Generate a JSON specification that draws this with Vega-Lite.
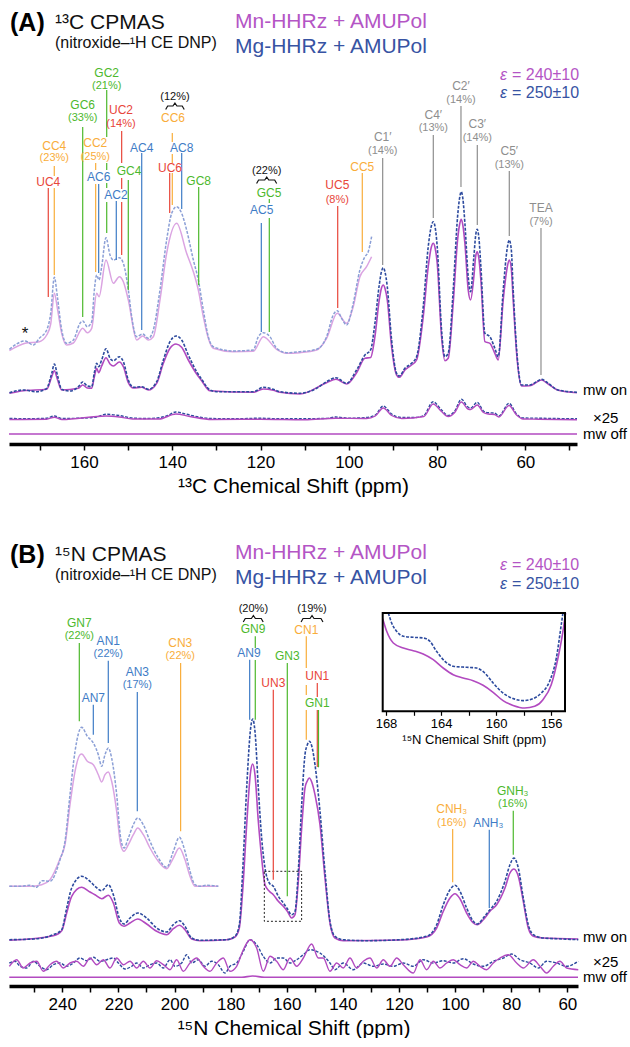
{
"$schema": "https://vega.github.io/schema/vega-lite/v6.json",
"padding": 0,
"autosize": {"type": "pad"},
"background": "white",
"spacing": 32,
"config": {"view": {"stroke": null}, "font": "Liberation Sans",
 "axis": {"grid": false, "domainColor": "#000", "domainWidth": 3.5, "tickColor": "#000", "tickWidth": 1.5, "tickSize": 6, "labelFontSize": 17, "labelColor": "#000", "labelFont": "Liberation Sans", "titleFont": "Liberation Sans", "titleFontSize": 21, "titleFontWeight": "normal", "titleColor": "#000", "labelPadding": 4, "titlePadding": 5, "labelOverlap": false, "labelFlush": false}},
"datasets": {
"A_mg_on": [{"ppm":176.9,"u":51.3},{"ppm":173.74,"u":54},{"ppm":170.72,"u":52.3},{"ppm":168.46,"u":55.7},{"ppm":167.32,"u":70.7},{"ppm":166.72,"u":80},{"ppm":166.04,"u":69},{"ppm":165.06,"u":54.7},{"ppm":163.17,"u":53},{"ppm":161.28,"u":57.3},{"ppm":160.3,"u":62},{"ppm":159.25,"u":58},{"ppm":158.26,"u":57.3},{"ppm":157.66,"u":71.3},{"ppm":157.13,"u":80.7},{"ppm":156.68,"u":77.3},{"ppm":156.0,"u":84},{"ppm":155.02,"u":95.3},{"ppm":154.11,"u":85.7},{"ppm":153.36,"u":83.3},{"ppm":152.0,"u":87.3},{"ppm":151.09,"u":82.3},{"ppm":149.96,"u":64},{"ppm":148.83,"u":56.7},{"ppm":146.94,"u":57.3},{"ppm":145.43,"u":54.7},{"ppm":143.54,"u":62.3},{"ppm":142.03,"u":84},{"ppm":140.52,"u":102.3},{"ppm":139.16,"u":108},{"ppm":137.88,"u":104},{"ppm":136.37,"u":89},{"ppm":134.48,"u":72.3},{"ppm":133.35,"u":64.7},{"ppm":131.46,"u":54},{"ppm":129.95,"u":52.3},{"ppm":121.65,"u":52.3},{"ppm":119.38,"u":56.7},{"ppm":117.12,"u":54.7},{"ppm":115.61,"u":52.3},{"ppm":111.08,"u":50.7},{"ppm":107.3,"u":55.7},{"ppm":105.04,"u":62.3},{"ppm":102.92,"u":66.3},{"ppm":100.5,"u":60.7},{"ppm":98.24,"u":74},{"ppm":96.35,"u":89},{"ppm":95.07,"u":94},{"ppm":94.09,"u":120.7},{"ppm":93.11,"u":159},{"ppm":92.6,"u":172.5},{"ppm":92.2,"u":176.3},{"ppm":91.8,"u":172},{"ppm":91.29,"u":157.3},{"ppm":90.31,"u":104},{"ppm":89.18,"u":70.7},{"ppm":88.57,"u":68},{"ppm":87.29,"u":75.7},{"ppm":85.78,"u":80.7},{"ppm":84.65,"u":87.3},{"ppm":83.14,"u":137.3},{"ppm":82.01,"u":197.3},{"ppm":81.3,"u":218},{"ppm":80.88,"u":222.3},{"ppm":80.45,"u":217},{"ppm":79.97,"u":197.3},{"ppm":78.99,"u":114},{"ppm":78.23,"u":87.3},{"ppm":77.48,"u":90.7},{"ppm":76.35,"u":154},{"ppm":75.36,"u":227.3},{"ppm":74.9,"u":246},{"ppm":74.53,"u":252.3},{"ppm":74.15,"u":245},{"ppm":73.7,"u":220.7},{"ppm":72.95,"u":167.3},{"ppm":72.42,"u":152.3},{"ppm":71.67,"u":187.3},{"ppm":71.25,"u":209},{"ppm":70.91,"u":214.7},{"ppm":70.55,"u":207},{"ppm":70.08,"u":177.3},{"ppm":69.17,"u":110.7},{"ppm":68.04,"u":107.3},{"ppm":66.91,"u":95.7},{"ppm":66.15,"u":87.3},{"ppm":65.02,"u":154},{"ppm":64.1,"u":196},{"ppm":63.66,"u":204},{"ppm":63.2,"u":195},{"ppm":62.76,"u":154},{"ppm":61.85,"u":87.3},{"ppm":60.87,"u":59},{"ppm":58.98,"u":59},{"ppm":57.47,"u":62.3},{"ppm":56.34,"u":64.7},{"ppm":54.83,"u":60.7},{"ppm":52.57,"u":54},{"ppm":48.3,"u":51.7}],
"A_mn_on": [{"ppm":176.9,"u":50.7},{"ppm":173.74,"u":53.3},{"ppm":168.46,"u":54.7},{"ppm":167.32,"u":67.3},{"ppm":166.72,"u":73.3},{"ppm":166.04,"u":64.7},{"ppm":165.06,"u":54},{"ppm":161.28,"u":55.7},{"ppm":160.3,"u":59},{"ppm":159.25,"u":56},{"ppm":158.26,"u":55.7},{"ppm":157.66,"u":67.3},{"ppm":157.13,"u":75.7},{"ppm":156.68,"u":71.3},{"ppm":156.0,"u":78},{"ppm":155.02,"u":86.3},{"ppm":154.11,"u":80},{"ppm":153.36,"u":78},{"ppm":152.0,"u":82},{"ppm":151.09,"u":77.3},{"ppm":149.96,"u":61.3},{"ppm":148.83,"u":56},{"ppm":146.94,"u":56.7},{"ppm":145.43,"u":54},{"ppm":143.54,"u":60.7},{"ppm":142.03,"u":80.7},{"ppm":140.52,"u":95.7},{"ppm":139.16,"u":100},{"ppm":137.88,"u":96.7},{"ppm":136.37,"u":84},{"ppm":134.48,"u":70},{"ppm":133.35,"u":63.3},{"ppm":131.46,"u":53.3},{"ppm":121.65,"u":51.7},{"ppm":119.38,"u":55},{"ppm":117.12,"u":53.7},{"ppm":115.61,"u":51.7},{"ppm":111.08,"u":50},{"ppm":105.04,"u":61.3},{"ppm":102.92,"u":64.7},{"ppm":100.5,"u":60},{"ppm":98.24,"u":71.3},{"ppm":96.35,"u":85.7},{"ppm":95.07,"u":86.5},{"ppm":94.09,"u":107.3},{"ppm":93.11,"u":144},{"ppm":92.6,"u":156},{"ppm":92.2,"u":159},{"ppm":91.8,"u":155.5},{"ppm":91.29,"u":144},{"ppm":90.31,"u":97.3},{"ppm":89.18,"u":69},{"ppm":88.57,"u":66.7},{"ppm":87.29,"u":74},{"ppm":85.78,"u":79},{"ppm":84.65,"u":84},{"ppm":83.14,"u":127.3},{"ppm":82.01,"u":177.3},{"ppm":81.3,"u":197},{"ppm":80.88,"u":200.7},{"ppm":80.45,"u":196},{"ppm":79.97,"u":180.7},{"ppm":78.99,"u":107.3},{"ppm":78.23,"u":83.3},{"ppm":77.48,"u":85.7},{"ppm":76.35,"u":140.7},{"ppm":75.36,"u":204},{"ppm":74.9,"u":219.5},{"ppm":74.53,"u":224.7},{"ppm":74.15,"u":218.5},{"ppm":73.7,"u":200.7},{"ppm":72.95,"u":154},{"ppm":72.42,"u":144},{"ppm":71.67,"u":167.3},{"ppm":71.25,"u":188},{"ppm":70.91,"u":192.3},{"ppm":70.55,"u":186},{"ppm":70.08,"u":164},{"ppm":69.17,"u":102.3},{"ppm":68.04,"u":100.7},{"ppm":66.91,"u":90.7},{"ppm":66.15,"u":84},{"ppm":65.02,"u":144},{"ppm":64.1,"u":177},{"ppm":63.66,"u":184},{"ppm":63.2,"u":176},{"ppm":62.76,"u":144},{"ppm":61.85,"u":84},{"ppm":60.87,"u":58},{"ppm":58.98,"u":58.3},{"ppm":57.47,"u":61.7},{"ppm":56.34,"u":64},{"ppm":54.83,"u":60},{"ppm":52.57,"u":53.7},{"ppm":48.3,"u":51.3}],
"A_mg_up": [{"ppm":176.9,"u":94.7},{"ppm":173.36,"u":103},{"ppm":171.48,"u":99},{"ppm":170.12,"u":105.7},{"ppm":168.46,"u":114},{"ppm":167.55,"u":130.7},{"ppm":166.72,"u":166.7},{"ppm":166.04,"u":147.3},{"ppm":165.06,"u":114},{"ppm":163.93,"u":100.7},{"ppm":162.42,"u":104},{"ppm":160.91,"u":120.7},{"ppm":160.3,"u":123},{"ppm":159.25,"u":117.3},{"ppm":158.26,"u":122.3},{"ppm":157.66,"u":154},{"ppm":157.13,"u":169},{"ppm":156.6,"u":164},{"ppm":156.0,"u":177.3},{"ppm":155.02,"u":206.3},{"ppm":154.11,"u":189},{"ppm":153.36,"u":184},{"ppm":152.0,"u":186.3},{"ppm":151.09,"u":180.7},{"ppm":149.96,"u":154},{"ppm":149.2,"u":127.3},{"ppm":148.07,"u":107.3},{"ppm":146.71,"u":110},{"ppm":145.43,"u":105.7},{"ppm":144.3,"u":114},{"ppm":142.79,"u":154},{"ppm":141.28,"u":204},{"ppm":140.14,"u":230.7},{"ppm":139.01,"u":237.3},{"ppm":137.88,"u":230.7},{"ppm":136.75,"u":214},{"ppm":135.23,"u":184},{"ppm":134.1,"u":164},{"ppm":132.97,"u":134},{"ppm":131.84,"u":107.3},{"ppm":130.71,"u":97.3},{"ppm":126.18,"u":93},{"ppm":121.65,"u":94},{"ppm":120.51,"u":107.3},{"ppm":119.38,"u":111.3},{"ppm":117.87,"u":107.3},{"ppm":116.36,"u":95.7},{"ppm":114.1,"u":91.3},{"ppm":111.08,"u":92.3},{"ppm":107.3,"u":94.7},{"ppm":105.04,"u":107.3},{"ppm":103.53,"u":129},{"ppm":102.62,"u":133.3},{"ppm":101.64,"u":125.7},{"ppm":100.5,"u":119},{"ppm":99.0,"u":140.7},{"ppm":97.49,"u":174},{"ppm":96.35,"u":187.3},{"ppm":95.6,"u":192.3},{"ppm":94.84,"u":207.3}],
"A_mn_up": [{"ppm":176.9,"u":93.3},{"ppm":173.36,"u":100.7},{"ppm":170.12,"u":102.3},{"ppm":168.46,"u":109},{"ppm":167.55,"u":120},{"ppm":166.72,"u":150.7},{"ppm":166.04,"u":135.7},{"ppm":165.06,"u":110.7},{"ppm":163.93,"u":99},{"ppm":162.42,"u":101},{"ppm":160.3,"u":115.7},{"ppm":159.25,"u":111.3},{"ppm":158.26,"u":115.7},{"ppm":157.13,"u":150.7},{"ppm":156.6,"u":147.3},{"ppm":155.02,"u":184},{"ppm":153.36,"u":160.7},{"ppm":152.0,"u":167.3},{"ppm":151.09,"u":162.3},{"ppm":149.96,"u":144},{"ppm":148.07,"u":104},{"ppm":146.71,"u":108},{"ppm":145.43,"u":104},{"ppm":144.3,"u":107.3},{"ppm":142.79,"u":144},{"ppm":141.28,"u":190.7},{"ppm":139.01,"u":220.7},{"ppm":136.75,"u":190.7},{"ppm":135.23,"u":172.3},{"ppm":134.1,"u":154},{"ppm":132.97,"u":127.3},{"ppm":131.84,"u":105.7},{"ppm":130.71,"u":95.7},{"ppm":126.18,"u":92.3},{"ppm":121.65,"u":92.7},{"ppm":119.38,"u":107.3},{"ppm":116.36,"u":94.7},{"ppm":114.1,"u":90.7},{"ppm":111.08,"u":91.3},{"ppm":107.3,"u":94},{"ppm":105.04,"u":105.7},{"ppm":102.62,"u":130.7},{"ppm":100.5,"u":120.7},{"ppm":99.0,"u":137.3},{"ppm":97.49,"u":167.3},{"ppm":95.98,"u":177.3},{"ppm":94.84,"u":187.3}],
"A_mg_x": [{"ppm":176.9,"u":25.5},{"ppm":172,"u":25.3},{"ppm":168.5,"u":25.8},{"ppm":166.7,"u":28},{"ppm":165,"u":25.5},{"ppm":161,"u":25.8},{"ppm":157.2,"u":27},{"ppm":155,"u":29.7},{"ppm":152,"u":28.5},{"ppm":149,"u":26},{"ppm":146,"u":25.5},{"ppm":143,"u":26.3},{"ppm":141,"u":28.5},{"ppm":139.2,"u":32},{"ppm":137,"u":30},{"ppm":134,"u":27},{"ppm":131,"u":25.5},{"ppm":126,"u":25.2},{"ppm":120,"u":25.8},{"ppm":116,"u":25.2},{"ppm":110,"u":25.3},{"ppm":105,"u":25.6},{"ppm":103,"u":27},{"ppm":100,"u":25.8},{"ppm":96,"u":26.5},{"ppm":94,"u":29},{"ppm":92.2,"u":38},{"ppm":90.3,"u":30},{"ppm":88,"u":26.5},{"ppm":85,"u":26.5},{"ppm":83,"u":28.5},{"ppm":80.9,"u":42.3},{"ppm":79,"u":34},{"ppm":77.5,"u":28.5},{"ppm":76,"u":33},{"ppm":74.5,"u":44.7},{"ppm":73,"u":37},{"ppm":72.4,"u":36},{"ppm":70.9,"u":41.7},{"ppm":69.5,"u":33},{"ppm":68.4,"u":31.3},{"ppm":67,"u":31},{"ppm":66,"u":28},{"ppm":63.7,"u":40.7},{"ppm":62,"u":30},{"ppm":60.5,"u":26},{"ppm":57,"u":25.8},{"ppm":52,"u":25.4},{"ppm":48.3,"u":25.3}],
"A_mn_x": [{"ppm":176.9,"u":24.5},{"ppm":168.5,"u":24.8},{"ppm":166.7,"u":26.8},{"ppm":165,"u":24.5},{"ppm":155,"u":28},{"ppm":152,"u":27},{"ppm":149,"u":25},{"ppm":143,"u":25},{"ppm":139.2,"u":30},{"ppm":136,"u":27.5},{"ppm":131,"u":24.5},{"ppm":120,"u":24.8},{"ppm":110,"u":24.3},{"ppm":103,"u":25.8},{"ppm":96,"u":25.5},{"ppm":94,"u":28},{"ppm":92.2,"u":36},{"ppm":90.3,"u":28.5},{"ppm":88,"u":25.5},{"ppm":83,"u":27.5},{"ppm":80.9,"u":40},{"ppm":79,"u":32.5},{"ppm":77.5,"u":27.5},{"ppm":76,"u":31.5},{"ppm":74.5,"u":42},{"ppm":73,"u":35},{"ppm":72.4,"u":34.5},{"ppm":70.9,"u":39},{"ppm":69.5,"u":31.5},{"ppm":68.4,"u":30},{"ppm":67,"u":29.5},{"ppm":66,"u":27},{"ppm":63.7,"u":38.5},{"ppm":62,"u":29},{"ppm":60.5,"u":25},{"ppm":57,"u":24.8},{"ppm":48.3,"u":24.3}],
"A_off": [{"ppm":177,"u":10},{"ppm":48.3,"u":10}],
"A_rules": [{"ppm":168.1,"u":256,"u2":147,"cat":"U"},{"ppm":166.74,"u":278,"u2":268,"cat":"C"},{"ppm":166.74,"u":256,"u2":169,"cat":"C"},{"ppm":160.3,"u":317,"u2":127,"cat":"G"},{"ppm":157.36,"u":281,"u2":274,"cat":"C"},{"ppm":157.36,"u":260,"u2":172,"cat":"C"},{"ppm":156.68,"u":260,"u2":171,"cat":"A"},{"ppm":154.86,"u":354,"u2":307,"cat":"G"},{"ppm":154.86,"u":281,"u2":274,"cat":"G"},{"ppm":154.86,"u":261,"u2":256,"cat":"G"},{"ppm":154.86,"u":242,"u2":211,"cat":"G"},{"ppm":151.47,"u":313,"u2":281,"cat":"U"},{"ppm":151.47,"u":266,"u2":255,"cat":"U"},{"ppm":151.47,"u":242,"u2":189,"cat":"U"},{"ppm":149.97,"u":264,"u2":154,"cat":"G"},{"ppm":152.69,"u":243,"u2":184,"cat":"A"},{"ppm":146.93,"u":291,"u2":114,"cat":"A"},{"ppm":140.0,"u":311,"u2":302,"cat":"C"},{"ppm":140.0,"u":290,"u2":281,"cat":"C"},{"ppm":140.0,"u":271,"u2":239,"cat":"C"},{"ppm":137.87,"u":291,"u2":235,"cat":"A"},{"ppm":140.59,"u":271,"u2":231,"cat":"U"},{"ppm":134.02,"u":257,"u2":159,"cat":"G"},{"ppm":118.02,"u":245,"u2":241,"cat":"G"},{"ppm":118.02,"u":226,"u2":112,"cat":"G"},{"ppm":119.83,"u":221,"u2":112,"cat":"A"},{"ppm":102.52,"u":238,"u2":136,"cat":"U"},{"ppm":96.95,"u":271,"u2":192,"cat":"C"},{"ppm":92.33,"u":286,"u2":179,"cat":"R"},{"ppm":80.86,"u":309,"u2":226,"cat":"R"},{"ppm":74.59,"u":338,"u2":257,"cat":"R"},{"ppm":70.89,"u":299,"u2":219,"cat":"R"},{"ppm":63.64,"u":273,"u2":208,"cat":"R"},{"ppm":56.46,"u":216,"u2":69,"cat":"R"}],
"A_names": [{"t":"UC4","ppm":168.1,"u":262,"cat":"U"},{"t":"CC4","ppm":166.74,"u":298,"cat":"C"},{"t":"GC6","ppm":160.3,"u":339,"cat":"G"},{"t":"CC2","ppm":157.45,"u":301,"cat":"C"},{"t":"AC6","ppm":156.68,"u":267,"cat":"A"},{"t":"GC2","ppm":154.86,"u":371.3,"cat":"G"},{"t":"AC2","ppm":152.76,"u":249,"cat":"A"},{"t":"UC2","ppm":151.62,"u":334,"cat":"U"},{"t":"GC4","ppm":149.81,"u":273,"cat":"G"},{"t":"AC4","ppm":146.93,"u":296,"cat":"A"},{"t":"CC6","ppm":139.84,"u":326,"cat":"C"},{"t":"AC8","ppm":137.87,"u":296,"cat":"A"},{"t":"UC6","ppm":140.52,"u":276,"cat":"U"},{"t":"GC8","ppm":134.02,"u":263,"cat":"G"},{"t":"GC5","ppm":118.09,"u":251,"cat":"G"},{"t":"AC5","ppm":119.74,"u":234,"cat":"A"},{"t":"UC5","ppm":102.61,"u":259,"cat":"U"},{"t":"CC5","ppm":96.95,"u":277,"cat":"C"},{"t":"C1′","ppm":92.33,"u":307,"cat":"R"},{"t":"C4′","ppm":80.86,"u":329,"cat":"R"},{"t":"C2′","ppm":74.59,"u":358,"cat":"R"},{"t":"C3′","ppm":70.89,"u":320,"cat":"R"},{"t":"C5′","ppm":63.64,"u":293,"cat":"R"},{"t":"TEA","ppm":56.46,"u":236,"cat":"R"}],
"A_pcts": [{"t":"(23%)","ppm":166.74,"u":286,"cat":"C"},{"t":"(33%)","ppm":160.3,"u":326,"cat":"G"},{"t":"(25%)","ppm":157.45,"u":287,"cat":"C"},{"t":"(21%)","ppm":154.86,"u":358,"cat":"G"},{"t":"(14%)","ppm":151.62,"u":320,"cat":"U"},{"t":"(8%)","ppm":102.61,"u":244,"cat":"U"},{"t":"(14%)","ppm":92.33,"u":293,"cat":"R"},{"t":"(13%)","ppm":80.86,"u":316,"cat":"R"},{"t":"(14%)","ppm":74.59,"u":344,"cat":"R"},{"t":"(14%)","ppm":70.89,"u":306,"cat":"R"},{"t":"(13%)","ppm":63.64,"u":279,"cat":"R"},{"t":"(7%)","ppm":56.46,"u":222,"cat":"R"},{"t":"(12%)","ppm":139.4,"u":347.5,"cat":"K"},{"t":"(22%)","ppm":118.6,"u":273.5,"cat":"K"}],
"A_star": [{"t":"*","ppm":173.37,"u":110}],
"A_braces": [{"id":1,"ppm":141.5,"u":334.5},{"id":1,"ppm":141.05,"u":338},{"id":1,"ppm":139.85,"u":338},{"id":1,"ppm":139.4,"u":341},{"id":1,"ppm":138.95,"u":338},{"id":1,"ppm":137.75,"u":338},{"id":1,"ppm":137.3,"u":334.5},{"id":2,"ppm":120.9,"u":260.5},{"id":2,"ppm":120.45,"u":264},{"id":2,"ppm":119.05,"u":264},{"id":2,"ppm":118.6,"u":267},{"id":2,"ppm":118.15,"u":264},{"id":2,"ppm":116.8,"u":264},{"id":2,"ppm":116.35,"u":260.5}],
"A_hb": [{"t":"(A)","ppm":176.77,"u":421}],
"A_h21": [{"t":"¹³C CPMAS","ppm":166.58,"u":421,"cat":"K"},{"t":"Mn-HHRz + AMUPol","ppm":125.79,"u":422,"cat":"Mn"},{"t":"Mg-HHRz + AMUPol","ppm":125.79,"u":397,"cat":"Mg"}],
"A_h16": [{"t":"(nitroxide–¹H CE DNP)","ppm":166.58,"u":401,"cat":"K"},{"t":"= 240±10","ppm":63.03,"u":369,"cat":"Mn"},{"t":"= 250±10","ppm":63.03,"u":351,"cat":"Mg"}],
"A_eps": [{"t":"ε","ppm":65.75,"u":369,"cat":"Mn"},{"t":"ε","ppm":65.75,"u":351,"cat":"Mg"}],
"A_right": [{"t":"mw on","ppm":46.94,"u":54},{"t":"×25","ppm":44.68,"u":26},{"t":"mw off","ppm":46.94,"u":10}],
"B_mg_up": [{"ppm":258.88,"u":99.7},{"ppm":255.07,"u":99.7},{"ppm":251.51,"u":100.7},{"ppm":249.13,"u":98.7},{"ppm":247.35,"u":105.3},{"ppm":244.38,"u":104.7},{"ppm":240.82,"u":126.3},{"ppm":239.04,"u":144.7},{"ppm":237.26,"u":191.3},{"ppm":235.47,"u":234.7},{"ppm":233.1,"u":258.7},{"ppm":231.08,"u":249.7},{"ppm":228.94,"u":243},{"ppm":227.16,"u":231.3},{"ppm":225.97,"u":219.7},{"ppm":224.78,"u":231.3},{"ppm":223.6,"u":238},{"ppm":222.41,"u":228},{"ppm":220.62,"u":191.3},{"ppm":219.2,"u":148},{"ppm":218.01,"u":138},{"ppm":216.47,"u":148},{"ppm":214.69,"u":161.3},{"ppm":213.14,"u":168},{"ppm":211.12,"u":161.3},{"ppm":208.75,"u":144.7},{"ppm":205.78,"u":128},{"ppm":202.81,"u":118.7},{"ppm":200.43,"u":134.7},{"ppm":198.29,"u":148.7},{"ppm":196.27,"u":134.7},{"ppm":194.49,"u":114.7},{"ppm":192.71,"u":101.3},{"ppm":190.93,"u":99.7},{"ppm":188.55,"u":100.7},{"ppm":184.4,"u":99.7}],
"B_mn_up": [{"ppm":258.88,"u":99.7},{"ppm":251.51,"u":99.7},{"ppm":247.35,"u":101.3},{"ppm":244.38,"u":106.3},{"ppm":240.82,"u":127.3},{"ppm":239.04,"u":141.3},{"ppm":237.26,"u":181.3},{"ppm":235.47,"u":214.7},{"ppm":233.69,"u":231.3},{"ppm":233.1,"u":232},{"ppm":231.08,"u":224.7},{"ppm":228.94,"u":221.3},{"ppm":227.16,"u":211.3},{"ppm":225.97,"u":204},{"ppm":224.78,"u":211.3},{"ppm":223.6,"u":214},{"ppm":222.41,"u":204.7},{"ppm":220.62,"u":174.7},{"ppm":219.2,"u":141.3},{"ppm":218.01,"u":134.7},{"ppm":216.47,"u":141.3},{"ppm":214.69,"u":151.3},{"ppm":213.14,"u":158},{"ppm":211.12,"u":151.3},{"ppm":208.75,"u":138},{"ppm":205.78,"u":124.7},{"ppm":202.81,"u":117.3},{"ppm":200.43,"u":128},{"ppm":198.29,"u":138},{"ppm":196.27,"u":126.3},{"ppm":194.49,"u":109.7},{"ppm":192.71,"u":99.7},{"ppm":184.4,"u":99.7}],
"B_mg_on": [{"ppm":258.88,"u":46.3},{"ppm":250.32,"u":47},{"ppm":243.2,"u":51.3},{"ppm":240.22,"u":56.3},{"ppm":238.44,"u":78},{"ppm":236.66,"u":98},{"ppm":233.1,"u":109.7},{"ppm":230.13,"u":104.7},{"ppm":228.35,"u":99.7},{"ppm":225.97,"u":95.3},{"ppm":223.6,"u":101.3},{"ppm":221.81,"u":91.3},{"ppm":219.68,"u":68},{"ppm":218.01,"u":62},{"ppm":215.87,"u":68},{"ppm":213.14,"u":73},{"ppm":209.93,"u":68},{"ppm":206.37,"u":58},{"ppm":202.81,"u":54},{"ppm":200.43,"u":61.3},{"ppm":198.29,"u":65.3},{"ppm":196.27,"u":59.7},{"ppm":193.9,"u":48},{"ppm":190.93,"u":45.7},{"ppm":181.42,"u":46.3},{"ppm":178.45,"u":49.7},{"ppm":176.91,"u":61.3},{"ppm":175.72,"u":114.7},{"ppm":174.29,"u":198},{"ppm":172.87,"u":258},{"ppm":172.16,"u":267},{"ppm":171.33,"u":254.7},{"ppm":170.14,"u":198},{"ppm":168.95,"u":148},{"ppm":167.76,"u":118},{"ppm":166.22,"u":103},{"ppm":164.79,"u":99.7},{"ppm":163.01,"u":89.7},{"ppm":161.23,"u":83},{"ppm":159.8,"u":77.3},{"ppm":158.26,"u":71.3},{"ppm":157.07,"u":74.7},{"ppm":155.89,"u":114.7},{"ppm":154.69,"u":181.3},{"ppm":153.51,"u":231.3},{"ppm":152.7,"u":241},{"ppm":151.96,"u":244.7},{"ppm":151.1,"u":240},{"ppm":149.94,"u":221.3},{"ppm":148.16,"u":174.7},{"ppm":146.38,"u":114.7},{"ppm":144.6,"u":64.7},{"ppm":142.82,"u":49.7},{"ppm":139.85,"u":46.3},{"ppm":131.53,"u":45.3},{"ppm":119.65,"u":46.3},{"ppm":110.15,"u":49.7},{"ppm":106.58,"u":61.3},{"ppm":104.21,"u":81.3},{"ppm":101.83,"u":96.3},{"ppm":100.05,"u":100.7},{"ppm":98.27,"u":94.7},{"ppm":95.89,"u":78},{"ppm":93.51,"u":64.7},{"ppm":92.09,"u":62},{"ppm":89.95,"u":68},{"ppm":87.58,"u":76.3},{"ppm":85.2,"u":84.7},{"ppm":82.23,"u":104.7},{"ppm":80.45,"u":121.3},{"ppm":79.02,"u":128},{"ppm":77.48,"u":118},{"ppm":75.7,"u":88},{"ppm":73.92,"u":61.3},{"ppm":72.13,"u":51.3},{"ppm":68.57,"u":48},{"ppm":61.44,"u":47},{"ppm":56.1,"u":46.3}],
"B_mn_on": [{"ppm":258.88,"u":45.7},{"ppm":243.2,"u":50.3},{"ppm":240.22,"u":55.3},{"ppm":238.44,"u":73},{"ppm":236.66,"u":89.7},{"ppm":233.1,"u":98.7},{"ppm":230.13,"u":94},{"ppm":228.35,"u":91.3},{"ppm":225.97,"u":87.3},{"ppm":223.6,"u":90.7},{"ppm":221.81,"u":83},{"ppm":219.68,"u":63},{"ppm":218.01,"u":59.7},{"ppm":215.87,"u":63},{"ppm":213.14,"u":67},{"ppm":209.93,"u":62},{"ppm":206.37,"u":54.7},{"ppm":202.81,"u":51.3},{"ppm":200.43,"u":57.3},{"ppm":198.29,"u":60.7},{"ppm":196.27,"u":56.3},{"ppm":193.9,"u":47},{"ppm":190.93,"u":45.3},{"ppm":181.42,"u":46.3},{"ppm":178.45,"u":49},{"ppm":176.91,"u":58},{"ppm":175.72,"u":94.7},{"ppm":174.29,"u":161.3},{"ppm":172.87,"u":214.7},{"ppm":172.16,"u":222},{"ppm":171.33,"u":211.3},{"ppm":170.14,"u":164.7},{"ppm":168.95,"u":128},{"ppm":167.76,"u":101.3},{"ppm":166.22,"u":94.7},{"ppm":164.79,"u":91.3},{"ppm":163.01,"u":84.7},{"ppm":161.23,"u":79.7},{"ppm":159.8,"u":74.7},{"ppm":158.26,"u":68},{"ppm":157.07,"u":71.3},{"ppm":155.89,"u":104.7},{"ppm":154.69,"u":158},{"ppm":153.51,"u":198},{"ppm":152.7,"u":205},{"ppm":151.96,"u":208},{"ppm":151.1,"u":204},{"ppm":149.94,"u":191.3},{"ppm":148.16,"u":161.3},{"ppm":146.38,"u":108},{"ppm":144.6,"u":63},{"ppm":142.82,"u":48},{"ppm":139.85,"u":45.3},{"ppm":119.65,"u":46},{"ppm":110.15,"u":49},{"ppm":106.58,"u":58},{"ppm":104.21,"u":74.7},{"ppm":101.83,"u":88},{"ppm":100.05,"u":92.3},{"ppm":98.27,"u":87.3},{"ppm":95.89,"u":73},{"ppm":93.51,"u":63},{"ppm":92.09,"u":61.3},{"ppm":89.95,"u":66.3},{"ppm":87.58,"u":74.7},{"ppm":85.2,"u":81.3},{"ppm":82.23,"u":98},{"ppm":80.45,"u":113},{"ppm":79.02,"u":117},{"ppm":77.48,"u":109.7},{"ppm":75.7,"u":84.7},{"ppm":73.92,"u":58},{"ppm":72.13,"u":49.7},{"ppm":68.57,"u":48},{"ppm":56.1,"u":47}],
"B_mg_x": [{"ppm":258.88,"u":23},{"ppm":256.86,"u":24.7},{"ppm":255.07,"u":19.7},{"ppm":252.7,"u":18},{"ppm":250.32,"u":24.7},{"ppm":247.95,"u":19.7},{"ppm":245.57,"u":16.3},{"ppm":243.2,"u":21.3},{"ppm":240.82,"u":23},{"ppm":238.44,"u":19.7},{"ppm":236.07,"u":23},{"ppm":233.69,"u":28},{"ppm":231.32,"u":25.3},{"ppm":228.94,"u":28.7},{"ppm":226.56,"u":24.7},{"ppm":224.19,"u":26.3},{"ppm":221.81,"u":28},{"ppm":220.03,"u":23},{"ppm":217.65,"u":17},{"ppm":215.28,"u":19.7},{"ppm":213.5,"u":23},{"ppm":211.12,"u":18},{"ppm":208.75,"u":21.3},{"ppm":206.37,"u":23},{"ppm":204.0,"u":18},{"ppm":201.62,"u":26.3},{"ppm":199.84,"u":19.7},{"ppm":197.46,"u":23},{"ppm":195.68,"u":31.3},{"ppm":193.9,"u":23},{"ppm":191.52,"u":26.3},{"ppm":189.15,"u":19.7},{"ppm":186.77,"u":24.7},{"ppm":184.4,"u":21.3},{"ppm":182.02,"u":13},{"ppm":180.24,"u":19.7},{"ppm":177.86,"u":23},{"ppm":175.48,"u":34.7},{"ppm":173.11,"u":46.3},{"ppm":170.73,"u":41.3},{"ppm":168.36,"u":29.7},{"ppm":165.98,"u":23},{"ppm":163.6,"u":28},{"ppm":161.23,"u":28},{"ppm":158.85,"u":23},{"ppm":156.48,"u":26.3},{"ppm":154.1,"u":31.3},{"ppm":151.72,"u":36.3},{"ppm":149.35,"u":34.7},{"ppm":148.16,"u":33},{"ppm":144.6,"u":23},{"ppm":142.82,"u":16.3},{"ppm":139.85,"u":23},{"ppm":136.29,"u":16.3},{"ppm":132.72,"u":23},{"ppm":129.16,"u":19.7},{"ppm":125.59,"u":22},{"ppm":122.03,"u":19.7},{"ppm":118.47,"u":23},{"ppm":114.9,"u":19.7},{"ppm":111.34,"u":26.3},{"ppm":107.77,"u":23},{"ppm":104.21,"u":25.3},{"ppm":100.64,"u":23},{"ppm":97.08,"u":27.3},{"ppm":93.51,"u":22},{"ppm":89.95,"u":19.7},{"ppm":86.39,"u":24.7},{"ppm":82.83,"u":28},{"ppm":79.85,"u":32},{"ppm":76.89,"u":26.3},{"ppm":73.32,"u":23},{"ppm":70.35,"u":18},{"ppm":67.38,"u":24.7},{"ppm":63.82,"u":23},{"ppm":60.25,"u":19.7},{"ppm":56.1,"u":24.7}],
"B_mn_x": [{"ppm":258.88,"u":19.7},{"ppm":256.26,"u":26.3},{"ppm":253.89,"u":18},{"ppm":251.51,"u":23},{"ppm":249.13,"u":24.7},{"ppm":246.76,"u":14.7},{"ppm":244.38,"u":21.3},{"ppm":242.01,"u":24.7},{"ppm":239.63,"u":18},{"ppm":237.26,"u":23},{"ppm":234.88,"u":24.7},{"ppm":232.51,"u":19.7},{"ppm":230.13,"u":28},{"ppm":227.75,"u":21.3},{"ppm":225.38,"u":26.3},{"ppm":223.0,"u":18},{"ppm":220.62,"u":28},{"ppm":218.25,"u":21.3},{"ppm":215.87,"u":24.7},{"ppm":213.5,"u":18},{"ppm":211.12,"u":24.7},{"ppm":208.75,"u":18},{"ppm":206.37,"u":25.3},{"ppm":204.0,"u":21.3},{"ppm":201.62,"u":16.3},{"ppm":199.24,"u":26.3},{"ppm":196.87,"u":14.7},{"ppm":194.49,"u":23},{"ppm":192.11,"u":28},{"ppm":189.74,"u":19.7},{"ppm":187.36,"u":14.7},{"ppm":184.99,"u":23},{"ppm":182.61,"u":28},{"ppm":180.24,"u":14.7},{"ppm":177.86,"u":19.7},{"ppm":175.48,"u":36.3},{"ppm":173.11,"u":46.3},{"ppm":170.73,"u":38},{"ppm":168.36,"u":14.7},{"ppm":165.98,"u":29.7},{"ppm":163.6,"u":24.7},{"ppm":161.23,"u":16.3},{"ppm":158.85,"u":28},{"ppm":156.48,"u":19.7},{"ppm":154.1,"u":28},{"ppm":151.13,"u":42},{"ppm":148.76,"u":28},{"ppm":146.97,"u":28},{"ppm":144.6,"u":14.7},{"ppm":142.22,"u":23},{"ppm":139.85,"u":18},{"ppm":137.47,"u":28},{"ppm":135.1,"u":18},{"ppm":132.72,"u":24.7},{"ppm":130.34,"u":28},{"ppm":127.97,"u":18},{"ppm":125.59,"u":26.3},{"ppm":123.21,"u":19.7},{"ppm":120.84,"u":28},{"ppm":118.47,"u":21.3},{"ppm":114.9,"u":13},{"ppm":112.52,"u":26.3},{"ppm":110.15,"u":16.3},{"ppm":107.77,"u":24.7},{"ppm":105.39,"u":18},{"ppm":103.02,"u":23},{"ppm":100.64,"u":26.3},{"ppm":98.27,"u":21.3},{"ppm":95.89,"u":18},{"ppm":93.51,"u":24.7},{"ppm":91.14,"u":19.7},{"ppm":88.76,"u":16.3},{"ppm":86.39,"u":23},{"ppm":84.01,"u":28},{"ppm":81.04,"u":31.3},{"ppm":78.07,"u":23},{"ppm":75.7,"u":18},{"ppm":72.13,"u":26.3},{"ppm":69.76,"u":19.7},{"ppm":67.38,"u":13},{"ppm":65.0,"u":19.7},{"ppm":62.63,"u":24.7},{"ppm":60.25,"u":18},{"ppm":56.1,"u":16.3}],
"B_off": [{"ppm":258.9,"u":8.7},{"ppm":176,"u":8.7},{"ppm":172.2,"u":10},{"ppm":168,"u":8.7},{"ppm":56.2,"u":8.7}],
"B_rules": [{"ppm":233.94,"u":343,"u2":264.7,"cat":"G"},{"ppm":228.95,"u":281.3,"u2":251.3,"cat":"A"},{"ppm":223.61,"u":325.3,"u2":243,"cat":"A"},{"ppm":213.27,"u":294,"u2":174.7,"cat":"A"},{"ppm":197.83,"u":323,"u2":154.7,"cat":"C"},{"ppm":171.22,"u":349.7,"u2":338,"cat":"G"},{"ppm":171.22,"u":326,"u2":266.3,"cat":"G"},{"ppm":173.22,"u":326.3,"u2":266.3,"cat":"A"},{"ppm":164.8,"u":296.3,"u2":106.3,"cat":"U"},{"ppm":159.81,"u":323,"u2":89.7,"cat":"G"},{"ppm":153.04,"u":349.7,"u2":318,"cat":"C"},{"ppm":153.04,"u":301,"u2":291,"cat":"C"},{"ppm":153.04,"u":276,"u2":246.3,"cat":"C"},{"ppm":149.12,"u":303,"u2":289,"cat":"U"},{"ppm":149.12,"u":276,"u2":219,"cat":"U"},{"ppm":148.69,"u":276,"u2":218.7,"cat":"G"},{"ppm":100.87,"u":157,"u2":103.7,"cat":"C"},{"ppm":87.82,"u":156.3,"u2":78,"cat":"A"},{"ppm":79.27,"u":175.3,"u2":131.3,"cat":"G"}],
"B_names": [{"t":"GN7","ppm":233.94,"u":363,"cat":"G"},{"t":"AN7","ppm":228.95,"u":288,"cat":"A"},{"t":"AN1","ppm":223.61,"u":345.3,"cat":"A"},{"t":"AN3","ppm":213.27,"u":314,"cat":"A"},{"t":"CN3","ppm":197.95,"u":343,"cat":"C"},{"t":"GN9","ppm":172.04,"u":357,"cat":"G"},{"t":"AN9","ppm":173.46,"u":333,"cat":"A"},{"t":"UN3","ppm":164.8,"u":303,"cat":"U"},{"t":"GN3","ppm":159.81,"u":330.3,"cat":"G"},{"t":"CN1","ppm":153.04,"u":356.3,"cat":"C"},{"t":"UN1","ppm":149.12,"u":309.7,"cat":"U"},{"t":"GN1","ppm":149.12,"u":283,"cat":"G"},{"t":"CNH₃","ppm":101.22,"u":177.5,"cat":"C"},{"t":"ANH₃","ppm":88.17,"u":163,"cat":"A"},{"t":"GNH₃","ppm":79.48,"u":195.5,"cat":"G"}],
"B_pcts": [{"t":"(22%)","ppm":233.94,"u":349.7,"cat":"G"},{"t":"(22%)","ppm":223.61,"u":332,"cat":"A"},{"t":"(17%)","ppm":213.27,"u":300.7,"cat":"A"},{"t":"(22%)","ppm":197.95,"u":329.7,"cat":"C"},{"t":"(16%)","ppm":101.22,"u":163.5,"cat":"C"},{"t":"(16%)","ppm":79.48,"u":182,"cat":"G"},{"t":"(20%)","ppm":171.9,"u":377,"cat":"K"},{"t":"(19%)","ppm":151.0,"u":377,"cat":"K"}],
"B_braces": [{"id":1,"ppm":175.5,"u":364},{"id":1,"ppm":174.8,"u":367.5},{"id":1,"ppm":172.6,"u":367.5},{"id":1,"ppm":171.9,"u":370.5},{"id":1,"ppm":171.2,"u":367.5},{"id":1,"ppm":169.1,"u":367.5},{"id":1,"ppm":168.4,"u":364},{"id":2,"ppm":154.9,"u":364},{"id":2,"ppm":154.2,"u":367.5},{"id":2,"ppm":151.7,"u":367.5},{"id":2,"ppm":151.0,"u":370.5},{"id":2,"ppm":150.3,"u":367.5},{"id":2,"ppm":147.8,"u":367.5},{"id":2,"ppm":147.1,"u":364}],
"B_hb": [{"t":"(B)","ppm":258.64,"u":431.3}],
"B_h21": [{"t":"¹⁵N CPMAS","ppm":242.6,"u":431.3,"cat":"K"},{"t":"Mn-HHRz + AMUPol","ppm":178.45,"u":433,"cat":"Mn"},{"t":"Mg-HHRz + AMUPol","ppm":178.45,"u":408,"cat":"Mg"}],
"B_h16": [{"t":"(nitroxide–¹H CE DNP)","ppm":242.6,"u":411.3,"cat":"K"},{"t":"= 240±10","ppm":79.73,"u":421.3,"cat":"Mn"},{"t":"= 250±10","ppm":79.73,"u":402,"cat":"Mg"}],
"B_eps": [{"t":"ε","ppm":84.0,"u":421.3,"cat":"Mn"},{"t":"ε","ppm":84.0,"u":402,"cat":"Mg"}],
"B_right": [{"t":"mw on","ppm":54.42,"u":48.7},{"t":"×25","ppm":50.86,"u":24},{"t":"mw off","ppm":54.42,"u":8.7}],
"B_box": [{"ppm":168.0,"ppm2":154.7,"u":64.7,"u2":114.7}],
"I_box": [{"ppm":168.24,"ppm2":155.0,"u":0,"u2":98.3}],
"I_mg": [{"ppm":167.83,"u":98.3},{"ppm":167.59,"u":88.3},{"ppm":167.23,"u":80},{"ppm":166.74,"u":75},{"ppm":166.02,"u":74},{"ppm":165.3,"u":73.3},{"ppm":164.81,"u":70},{"ppm":164.33,"u":60},{"ppm":163.72,"u":50},{"ppm":163.12,"u":45},{"ppm":162.15,"u":44},{"ppm":161.43,"u":43.3},{"ppm":160.83,"u":38.3},{"ppm":160.22,"u":28.3},{"ppm":159.5,"u":18.3},{"ppm":158.77,"u":12.7},{"ppm":158.05,"u":10.7},{"ppm":157.32,"u":12.7},{"ppm":156.72,"u":18.3},{"ppm":156.12,"u":30},{"ppm":155.63,"u":53.3},{"ppm":155.27,"u":86.7},{"ppm":155.15,"u":98.3}],
"I_mn": [{"ppm":168.24,"u":92.6},{"ppm":167.95,"u":80},{"ppm":167.47,"u":68.3},{"ppm":166.74,"u":63.3},{"ppm":166.02,"u":60.6},{"ppm":165.3,"u":57.3},{"ppm":164.57,"u":51.6},{"ppm":163.85,"u":43.3},{"ppm":163.12,"u":36.6},{"ppm":162.4,"u":33.3},{"ppm":161.67,"u":30.6},{"ppm":160.95,"u":26},{"ppm":160.22,"u":19},{"ppm":159.5,"u":10.6},{"ppm":158.77,"u":5.9},{"ppm":157.93,"u":3.3},{"ppm":157.2,"u":5},{"ppm":156.6,"u":11.6},{"ppm":156.0,"u":26.6},{"ppm":155.51,"u":53.3},{"ppm":155.15,"u":80},{"ppm":154.96,"u":98.3}]
},
"vconcat": [
{
 "width": 630, "height": 444,
 "encoding": {
  "x": {"field": "ppm", "type": "quantitative", "scale": {"domain": [177.0, 48.3], "range": [9, 577], "nice": false, "zero": false},
        "axis": {"values": [170,160,150,140,130,120,110,100,90,80,70,60,50], "labelExpr": "datum.value % 20 === 0 ? datum.label : ''", "title": "¹³C Chemical Shift (ppm)"}},
  "y": {"field": "u", "type": "quantitative", "scale": {"domain": [0, 444], "nice": false, "zero": false}, "axis": null}
 },
 "layer": [
  {"data": {"name": "A_mn_up"}, "mark": {"type": "line", "color": "#dba4e2", "strokeWidth": 1.5, "interpolate": "monotone"}},
  {"data": {"name": "A_mg_up"}, "mark": {"type": "line", "color": "#8b9fd6", "strokeWidth": 1.5, "strokeDash": [3, 1.5], "interpolate": "monotone"}},
  {"data": {"name": "A_mn_on"}, "mark": {"type": "line", "color": "#b24ac0", "strokeWidth": 1.6, "interpolate": "monotone"}},
  {"data": {"name": "A_mg_on"}, "mark": {"type": "line", "color": "#2c4a9e", "strokeWidth": 1.6, "strokeDash": [3, 1.5], "interpolate": "monotone"}},
  {"data": {"name": "A_mg_x"}, "mark": {"type": "line", "color": "#2c4a9e", "strokeWidth": 1.4, "strokeDash": [3, 1.5], "interpolate": "monotone"}},
  {"data": {"name": "A_mn_x"}, "mark": {"type": "line", "color": "#b24ac0", "strokeWidth": 1.4, "interpolate": "monotone"}},
  {"data": {"name": "A_off"}, "mark": {"type": "line", "color": "#b24ac0", "strokeWidth": 1.6}},
  {"data": {"name": "A_rules"}, "mark": {"type": "rule", "strokeWidth": 1.2},
   "encoding": {"y2": {"field": "u2"}, "color": {"field": "cat", "type": "nominal", "scale": {"domain": ["U","C","G","A","R","K","Mn","Mg"], "range": ["#e8463a","#f9ad3a","#4cb82c","#3e7cc6","#8e8e8e","#111111","#b455c5","#3753a3"]}, "legend": null}}},
  {"data": {"name": "A_names"}, "mark": {"type": "text", "fontSize": 12, "align": "center", "baseline": "middle"},
   "encoding": {"text": {"field": "t"}, "color": {"field": "cat", "type": "nominal", "legend": null}}},
  {"data": {"name": "A_pcts"}, "mark": {"type": "text", "fontSize": 11, "align": "center", "baseline": "middle"},
   "encoding": {"text": {"field": "t"}, "color": {"field": "cat", "type": "nominal", "legend": null}}},
  {"data": {"name": "A_star"}, "mark": {"type": "text", "fontSize": 17, "align": "center", "baseline": "middle", "color": "#111"},
   "encoding": {"text": {"field": "t"}}},
  {"data": {"name": "A_braces"}, "mark": {"type": "line", "color": "#111", "strokeWidth": 1.2},
   "encoding": {"detail": {"field": "id", "type": "nominal"}}},
  {"data": {"name": "A_hb"}, "mark": {"type": "text", "fontSize": 25, "fontWeight": "bold", "align": "left", "baseline": "middle", "color": "#000"},
   "encoding": {"text": {"field": "t"}}},
  {"data": {"name": "A_h21"}, "mark": {"type": "text", "fontSize": 21, "align": "left", "baseline": "middle"},
   "encoding": {"text": {"field": "t"}, "color": {"field": "cat", "type": "nominal", "legend": null}}},
  {"data": {"name": "A_h16"}, "mark": {"type": "text", "fontSize": 16, "align": "left", "baseline": "middle"},
   "encoding": {"text": {"field": "t"}, "color": {"field": "cat", "type": "nominal", "legend": null}}},
  {"data": {"name": "A_eps"}, "mark": {"type": "text", "fontSize": 16, "fontStyle": "italic", "align": "left", "baseline": "middle"},
   "encoding": {"text": {"field": "t"}, "color": {"field": "cat", "type": "nominal", "legend": null}}},
  {"data": {"name": "A_right"}, "mark": {"type": "text", "fontSize": 15, "align": "left", "baseline": "middle", "color": "#000"},
   "encoding": {"text": {"field": "t"}}}
 ]
},
{
 "width": 630, "height": 458,
 "resolve": {"scale": {"x": "independent", "y": "independent"}, "axis": {"x": "independent"}},
 "layer": [
  {
   "encoding": {
    "x": {"field": "ppm", "type": "quantitative", "scale": {"domain": [259.0, 56.2], "range": [9, 578], "nice": false, "zero": false},
          "axis": {"orient": "bottom", "values": [250,240,230,220,210,200,190,180,170,160,150,140,130,120,110,100,90,80,70,60], "labelExpr": "datum.value % 20 === 0 ? datum.label : ''", "title": "¹⁵N Chemical Shift (ppm)"}},
    "y": {"field": "u", "type": "quantitative", "scale": {"domain": [0, 458], "nice": false, "zero": false}, "axis": null}
   },
   "layer": [
    {"data": {"name": "B_mn_up"}, "mark": {"type": "line", "color": "#dba4e2", "strokeWidth": 1.5, "interpolate": "monotone"}},
    {"data": {"name": "B_mg_up"}, "mark": {"type": "line", "color": "#8b9fd6", "strokeWidth": 1.5, "strokeDash": [3, 1.5], "interpolate": "monotone"}},
    {"data": {"name": "B_mn_on"}, "mark": {"type": "line", "color": "#b24ac0", "strokeWidth": 1.6, "interpolate": "monotone"}},
    {"data": {"name": "B_mg_on"}, "mark": {"type": "line", "color": "#2c4a9e", "strokeWidth": 1.6, "strokeDash": [3, 1.5], "interpolate": "monotone"}},
    {"data": {"name": "B_mg_x"}, "mark": {"type": "line", "color": "#2c4a9e", "strokeWidth": 1.4, "strokeDash": [3, 1.5], "interpolate": "monotone"}},
    {"data": {"name": "B_mn_x"}, "mark": {"type": "line", "color": "#b24ac0", "strokeWidth": 1.4, "interpolate": "monotone"}},
    {"data": {"name": "B_off"}, "mark": {"type": "line", "color": "#b24ac0", "strokeWidth": 1.6, "interpolate": "monotone"}},
    {"data": {"name": "B_box"}, "mark": {"type": "rect", "fill": null, "stroke": "#222", "strokeWidth": 1, "strokeDash": [2, 2]},
     "encoding": {"x2": {"field": "ppm2"}, "y2": {"field": "u2"}}},
    {"data": {"name": "B_rules"}, "mark": {"type": "rule", "strokeWidth": 1.2},
     "encoding": {"y2": {"field": "u2"}, "color": {"field": "cat", "type": "nominal", "scale": {"domain": ["U","C","G","A","R","K","Mn","Mg"], "range": ["#e8463a","#f9ad3a","#4cb82c","#3e7cc6","#8e8e8e","#111111","#b455c5","#3753a3"]}, "legend": null}}},
    {"data": {"name": "B_names"}, "mark": {"type": "text", "fontSize": 12, "align": "center", "baseline": "middle"},
     "encoding": {"text": {"field": "t"}, "color": {"field": "cat", "type": "nominal", "legend": null}}},
    {"data": {"name": "B_pcts"}, "mark": {"type": "text", "fontSize": 11, "align": "center", "baseline": "middle"},
     "encoding": {"text": {"field": "t"}, "color": {"field": "cat", "type": "nominal", "legend": null}}},
    {"data": {"name": "B_braces"}, "mark": {"type": "line", "color": "#111", "strokeWidth": 1.2},
     "encoding": {"detail": {"field": "id", "type": "nominal"}}},
    {"data": {"name": "B_hb"}, "mark": {"type": "text", "fontSize": 25, "fontWeight": "bold", "align": "left", "baseline": "middle", "color": "#000"},
     "encoding": {"text": {"field": "t"}}},
    {"data": {"name": "B_h21"}, "mark": {"type": "text", "fontSize": 21, "align": "left", "baseline": "middle"},
     "encoding": {"text": {"field": "t"}, "color": {"field": "cat", "type": "nominal", "legend": null}}},
    {"data": {"name": "B_h16"}, "mark": {"type": "text", "fontSize": 16, "align": "left", "baseline": "middle"},
     "encoding": {"text": {"field": "t"}, "color": {"field": "cat", "type": "nominal", "legend": null}}},
    {"data": {"name": "B_eps"}, "mark": {"type": "text", "fontSize": 16, "fontStyle": "italic", "align": "left", "baseline": "middle"},
     "encoding": {"text": {"field": "t"}, "color": {"field": "cat", "type": "nominal", "legend": null}}},
    {"data": {"name": "B_right"}, "mark": {"type": "text", "fontSize": 15, "align": "left", "baseline": "middle", "color": "#000"},
     "encoding": {"text": {"field": "t"}}}
   ]
  },
  {
   "encoding": {
    "x": {"field": "ppm", "type": "quantitative", "scale": {"domain": [168.24, 155.0], "range": [382.7, 565], "nice": false, "zero": false},
          "axis": {"orient": "bottom", "offset": -274.7, "domain": false, "values": [168,166,164,162,160,158,156], "labelExpr": "datum.value % 4 === 0 ? datum.label : ''", "tickSize": 4, "tickWidth": 1.2, "labelFontSize": 13, "titleFontSize": 13, "labelPadding": 2, "titlePadding": 3, "title": "¹⁵N Chemical Shift (ppm)"}},
    "y": {"field": "u", "type": "quantitative", "scale": {"domain": [0, 98.3], "range": [183.3, 85], "nice": false, "zero": false}, "axis": null}
   },
   "layer": [
    {"data": {"name": "I_mn"}, "mark": {"type": "line", "color": "#b24ac0", "strokeWidth": 1.6, "interpolate": "monotone", "clip": true}},
    {"data": {"name": "I_mg"}, "mark": {"type": "line", "color": "#2c4a9e", "strokeWidth": 1.6, "strokeDash": [3, 1.5], "interpolate": "monotone", "clip": true}},
    {"data": {"name": "I_box"}, "mark": {"type": "rect", "fill": null, "stroke": "#000", "strokeWidth": 2},
     "encoding": {"x2": {"field": "ppm2"}, "y2": {"field": "u2"}}}
   ]
  }
 ]
}
]
}
